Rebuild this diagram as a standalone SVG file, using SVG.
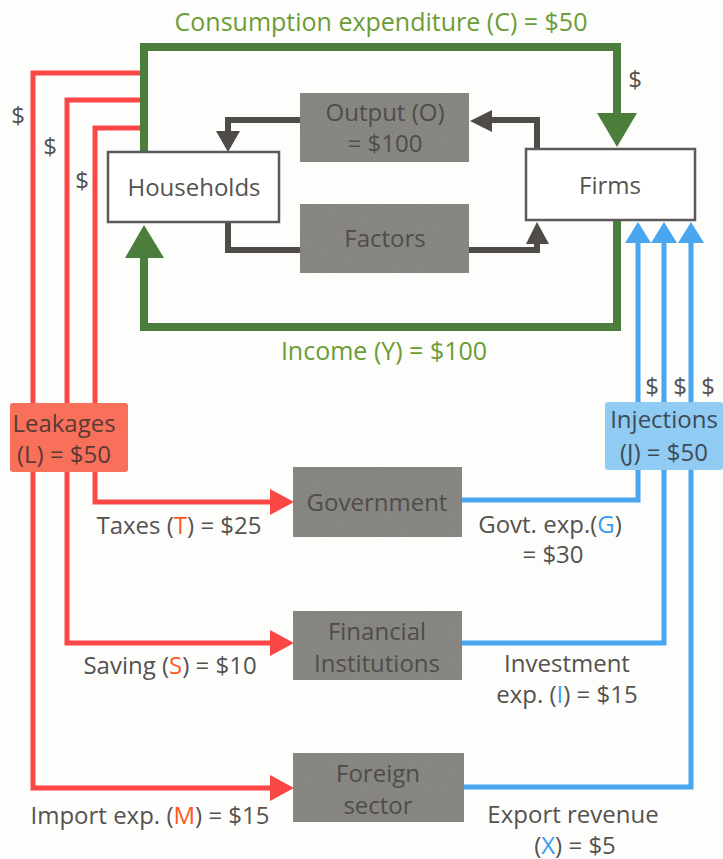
<svg xmlns="http://www.w3.org/2000/svg" width="723" height="859" viewBox="0 0 723 859">
  <defs>
    <filter id="grain" x="0" y="0" width="1" height="1">
      <feTurbulence type="fractalNoise" baseFrequency="0.9" numOctaves="2" seed="3" result="n"/>
      <feColorMatrix in="n" type="matrix" values="0 0 0 0 0  0 0 0 0 0  0 0 0 0 0  0 0 0 0.18 0" result="m"/>
      <feComposite in="m" in2="SourceGraphic" operator="in" result="g"/>
      <feMerge><feMergeNode in="SourceGraphic"/><feMergeNode in="g"/></feMerge>
    </filter>
  </defs>
  <style>
    text { font-family: "Open Sans", "Noto Sans", "Liberation Sans", sans-serif; text-anchor: middle; dominant-baseline: central; }
    .lbl { font-size: 24px; fill: #55524f; }
    .box { fill: #ffffff; stroke: #5a5a5a; stroke-width: 2.5; }
    .gray { fill: #8e8c87; filter: url(#grain); }
    .gtx { font-size: 24px; fill: #4e4d4b; }
    .green { fill: none; stroke: #4b7d3c; stroke-width: 8; }
    .greenh { fill: #4b7d3c; }
    .greentx { font-size: 25px; fill: #6b9c36; }
    .dark { fill: none; stroke: #4e4b48; stroke-width: 6; }
    .darkh { fill: #4e4b48; }
    .red { fill: none; stroke: #fb4646; stroke-width: 5; }
    .redh { fill: #fb4646; }
    .blue { fill: none; stroke: #4ba6f0; stroke-width: 5; }
    .blueh { fill: #4ba6f0; }
    .cR { fill: #ff5a1e; }
    .cB { fill: #3a9ef0; }
  </style>

  <rect x="0" y="0" width="723" height="859" fill="#fdfdfc"/>

  <g id="connectors">
    <!-- consumption expenditure: households to firms -->
    <path class="green" d="M144,152 V47 H617 V118"/>
    <polygon class="greenh" points="597,113 637,113 617,147"/>
    <!-- income: firms to households -->
    <path class="green" d="M617,220 V327 H144 V252"/>
    <polygon class="greenh" points="125,258 164,258 144,225"/>

    <!-- real flows -->
    <path class="dark" d="M537,149 V120 H488"/>
    <polygon class="darkh" points="470,121 492,110 492,132"/>
    <path class="dark" d="M300,120 H228 V134"/>
    <polygon class="darkh" points="216,131 240,131 228,152"/>
    <path class="dark" d="M228,222 V250 H300"/>
    <path class="dark" d="M469,250 H537 V240"/>
    <polygon class="darkh" points="526,244 549,244 537,222"/>

    <!-- leakages -->
    <path class="red" d="M140,73 H33 V788 H275"/>
    <polygon class="redh" points="270,775 270,801 294,788"/>
    <path class="red" d="M140,100 H67 V643 H275"/>
    <polygon class="redh" points="270,630 270,656 294,643"/>
    <path class="red" d="M140,128 H95 V502 H275"/>
    <polygon class="redh" points="270,489 270,515 294,502"/>

    <!-- injections -->
    <path class="blue" d="M462,500 H638 V240"/>
    <polygon class="blueh" points="625,243 651,243 638,222"/>
    <path class="blue" d="M462,643 H664 V240"/>
    <polygon class="blueh" points="651,243 677,243 664,222"/>
    <path class="blue" d="M464,787 H691 V240"/>
    <polygon class="blueh" points="678,243 704,243 691,222"/>
  </g>

  <g id="households">
    <rect class="box" x="108" y="152" width="171" height="70"/>
    <text class="lbl" x="194" y="186">Households</text>
  </g>

  <g id="firms">
    <rect class="box" x="526" y="149" width="169" height="71"/>
    <text class="lbl" x="610" y="184">Firms</text>
  </g>

  <g id="output">
    <rect class="gray" x="300" y="93" width="169" height="69"/>
    <text class="gtx" x="385" y="111">Output (O)</text>
    <text class="gtx" x="385" y="142">= $100</text>
  </g>

  <g id="factors">
    <rect class="gray" x="300" y="204" width="169" height="69"/>
    <text class="gtx" x="385" y="237">Factors</text>
  </g>

  <g id="leakages">
    <rect x="10" y="403" width="118" height="69" rx="3" fill="#f9705a"/>
    <text class="lbl" x="64" y="422" style="fill:#5a3a36">Leakages</text>
    <text class="lbl" x="64" y="453" style="fill:#5a3a36">(L) = $50</text>
  </g>

  <g id="injections">
    <rect x="605" y="402" width="118" height="68" rx="3" fill="#90cbf3"/>
    <text class="lbl" x="664" y="418" style="fill:#3e4a56">Injections</text>
    <text class="lbl" x="664" y="451" style="fill:#3e4a56">(J) = $50</text>
  </g>

  <g id="government">
    <rect class="gray" x="293" y="467" width="169" height="70"/>
    <text class="gtx" x="377" y="501">Government</text>
  </g>

  <g id="financial">
    <rect class="gray" x="293" y="611" width="169" height="69"/>
    <text class="gtx" x="377" y="630">Financial</text>
    <text class="gtx" x="377" y="662">Institutions</text>
  </g>

  <g id="foreign">
    <rect class="gray" x="293" y="753" width="171" height="69"/>
    <text class="gtx" x="378" y="772">Foreign</text>
    <text class="gtx" x="378" y="804">sector</text>
  </g>

  <g id="labels">
    <text class="greentx" x="381" y="21">Consumption expenditure (C) = $50</text>
    <text class="greentx" x="384" y="350">Income (Y) = $100</text>

    <text class="lbl" x="18" y="114">$</text>
    <text class="lbl" x="50" y="145">$</text>
    <text class="lbl" x="82" y="179">$</text>
    <text class="lbl" x="635" y="78">$</text>
    <text class="lbl" x="652" y="385">$</text>
    <text class="lbl" x="680" y="385">$</text>
    <text class="lbl" x="708" y="385">$</text>

    <text class="lbl" x="179" y="524">Taxes (<tspan class="cR">T</tspan>) = $25</text>
    <text class="lbl" x="170" y="664">Saving (<tspan class="cR">S</tspan>) = $10</text>
    <text class="lbl" x="150" y="814">Import exp. (<tspan class="cR">M</tspan>) = $15</text>

    <text class="lbl" x="550" y="523">Govt. exp.(<tspan class="cB">G</tspan>)</text>
    <text class="lbl" x="553" y="553">= $30</text>
    <text class="lbl" x="567" y="662">Investment</text>
    <text class="lbl" x="567" y="693">exp. (<tspan class="cB">I</tspan>) = $15</text>
    <text class="lbl" x="573" y="813">Export revenue</text>
    <text class="lbl" x="575" y="844">(<tspan class="cB">X</tspan>) = $5</text>
  </g>
</svg>
